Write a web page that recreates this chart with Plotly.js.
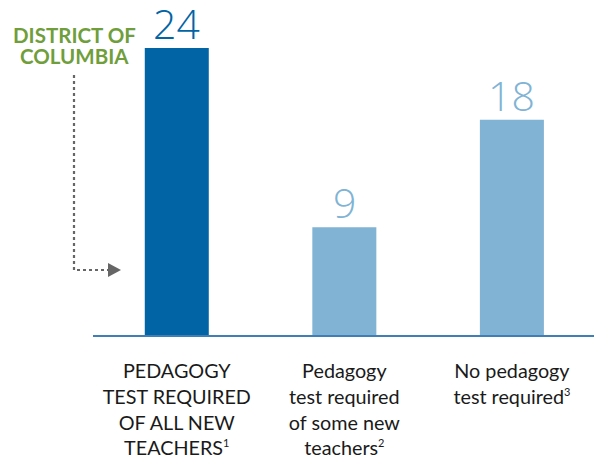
<!DOCTYPE html>
<html>
<head>
<meta charset="utf-8">
<script src="https://cdn.plot.ly/plotly-3.0.1.min.js"></script>
<style>html,body{margin:0;padding:0;background:#fff;}#chart{width:594px;height:471px;}</style>
</head>
<body>
<div id="chart"></div>
<script>
const categories = [
  "PEDAGOGY<br>TEST REQUIRED<br>OF ALL NEW<br>TEACHERS<sup><span style='font-size:11px'>1</span></sup>",
  "Pedagogy<br>test required<br>of some new<br>teachers<sup><span style='font-size:11px'>2</span></sup>",
  "No pedagogy<br>test required<sup><span style='font-size:11px'>3</span></sup>"
];
const values = [24, 9, 18];
const barColors = ["#0064A5", "#80B3D4", "#80B3D4"];
const calloutLines = ["DISTRICT OF", "COLUMBIA"];

const FONT = "Lato, 'Open Sans', sans-serif";

const trace = {
  type: "bar",
  x: categories,
  y: values,
  width: 0.382,
  marker: {color: barColors},
  cliponaxis: false,
  hoverinfo: "skip"
};

const valueAnnotations = values.map((v, i) => ({
  x: categories[i], y: v, xref: "x", yref: "y",
  text: String(v), showarrow: false,
  height: 44, borderpad: 0,
  xanchor: "center", yanchor: "bottom", yshift: 2,
  font: {family: "'Open Sans', Lato, sans-serif", size: 41, weight: 300, color: barColors[i]}
}));

const calloutAnnotations = calloutLines.map((t, i) => ({
  xref: "paper", yref: "paper",
  x: (74 - 93) / 501, y: (335 - (34.5 + 21 * i)) / 335,
  xanchor: "center", yanchor: "middle",
  height: 20, borderpad: 0,
  text: "<b>" + t + "</b>", showarrow: false,
  font: {family: FONT, size: 20.5, color: "#6F9E3B"}
}));

const px = x => (x - 93) / 501;
const py = y => (335 - y) / 335;

const layout = {
  width: 594, height: 471,
  margin: {l: 93, r: 0, t: 0, b: 136},
  paper_bgcolor: "#fff", plot_bgcolor: "#fff",
  showlegend: false,
  xaxis: {
    range: [-0.5, 2.49],
    showline: true, linecolor: "#3F7FB5", linewidth: 1.5,
    showgrid: false, zeroline: false, ticks: "",
    ticklabelstandoff: 18,
    tickfont: {family: FONT, size: 19.8, color: "#1a1a1a"},
    fixedrange: true
  },
  yaxis: {
    range: [0, 28.01], visible: false, showgrid: false, zeroline: false, fixedrange: true
  },
  annotations: valueAnnotations.concat(calloutAnnotations),
  shapes: [
    {
      type: "path", xref: "paper", yref: "paper",
      path: "M " + px(74) + " " + py(75) +
            " L " + px(74) + " " + py(270) +
            " L " + px(109) + " " + py(270),
      line: {color: "#666666", width: 2.2, dash: "dot"}
    },
    {
      type: "path", xref: "paper", yref: "paper",
      path: "M " + px(108) + " " + py(263) +
            " L " + px(108) + " " + py(277) +
            " L " + px(121) + " " + py(270) + " Z",
      fillcolor: "#666666", line: {width: 0}
    }
  ]
};

Plotly.newPlot("chart", [trace], layout, {displayModeBar: false, staticPlot: true});
</script>
</body>
</html>
